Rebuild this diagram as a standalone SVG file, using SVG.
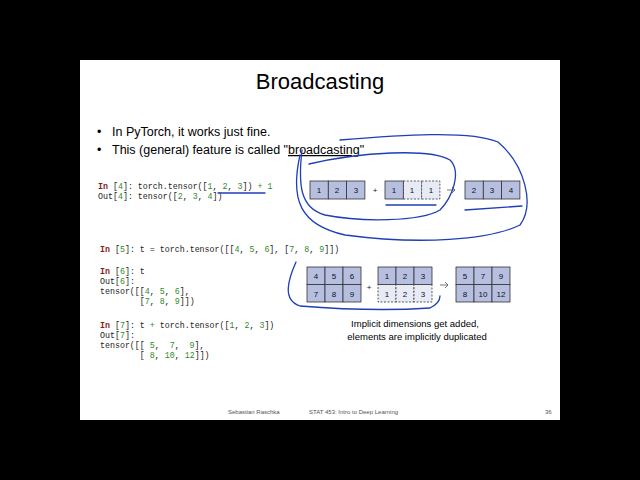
<svg xmlns="http://www.w3.org/2000/svg" width="640" height="480" viewBox="0 0 640 480">
<style>
.c{fill:#b6bfe0;stroke:#333;stroke-width:0.8}
.l{fill:#e8ebf5;stroke:#333;stroke-width:0.8;stroke-dasharray:2,1.5}
.n{font-family:"Liberation Sans",sans-serif;font-size:8px;text-anchor:middle;fill:#111}
.code text{font-family:"Liberation Mono",monospace;font-size:8.3px;fill:#222;white-space:pre}
.k{fill:#8b1a1a;font-weight:bold}
.g{fill:#2e8b2e}
.pen{fill:none;stroke:#1f3fb5;stroke-width:1.3;stroke-linecap:round}
.ar{fill:none;stroke:#555;stroke-width:0.8}
</style>
<rect width="640" height="480" fill="#000"/>
<rect x="80" y="60" width="480" height="360" fill="#fff"/>
<text x="320" y="89" font-family="Liberation Sans,sans-serif" font-size="22" text-anchor="middle">Broadcasting</text>
<g font-family="Liberation Sans,sans-serif" font-size="12.5">
<text x="97" y="136">•</text><text x="112" y="136">In PyTorch, it works just fine.</text>
<text x="97" y="154">•</text><text x="112" y="154">This (general) feature is called "<tspan text-decoration="underline">broadcasting</tspan>"</text>
</g>
<g class="code">
<text x="98" y="189"><tspan class="k">In</tspan> [<tspan class="g">4</tspan>]: torch.tensor([<tspan class="g">1</tspan>, <tspan class="g">2</tspan>, <tspan class="g">3</tspan>]) <tspan class="g">+</tspan> <tspan class="g">1</tspan></text>
<text x="98" y="199">Out[<tspan class="g">4</tspan>]: tensor([<tspan class="g">2</tspan>, <tspan class="g">3</tspan>, <tspan class="g">4</tspan>])</text>
<text x="100" y="252"><tspan class="k">In</tspan> [<tspan class="g">5</tspan>]: t = torch.tensor([[<tspan class="g">4</tspan>, <tspan class="g">5</tspan>, <tspan class="g">6</tspan>], [<tspan class="g">7</tspan>, <tspan class="g">8</tspan>, <tspan class="g">9</tspan>]])</text>
<text x="100" y="274"><tspan class="k">In</tspan> [<tspan class="g">6</tspan>]: t</text>
<text x="100" y="284">Out[<tspan class="g">6</tspan>]:</text>
<text x="100" y="294">tensor([[<tspan class="g">4</tspan>, <tspan class="g">5</tspan>, <tspan class="g">6</tspan>],</text>
<text x="139.8" y="304">[<tspan class="g">7</tspan>, <tspan class="g">8</tspan>, <tspan class="g">9</tspan>]])</text>
<text x="100" y="328"><tspan class="k">In</tspan> [<tspan class="g">7</tspan>]: t <tspan class="g">+</tspan> torch.tensor([<tspan class="g">1</tspan>, <tspan class="g">2</tspan>, <tspan class="g">3</tspan>])</text>
<text x="100" y="338">Out[<tspan class="g">7</tspan>]:</text>
<text x="100" y="348">tensor([[<tspan x="149.8" class="g">5</tspan>,<tspan x="169.7" class="g">7</tspan>,<tspan x="189.6" class="g">9</tspan>],</text>
<text x="139.8" y="358">[<tspan x="149.8" class="g">8</tspan>,<tspan x="164.7" class="g">10</tspan>,<tspan x="184.7" class="g">12</tspan>]])</text>
</g>
<g id="row1">
<rect class="c" x="310" y="181" width="18.3" height="18"/><rect class="c" x="328.3" y="181" width="18.3" height="18"/><rect class="c" x="346.6" y="181" width="18.3" height="18"/>
<text class="n" x="319" y="193">1</text><text class="n" x="337" y="193">2</text><text class="n" x="356" y="193">3</text>
<text class="n" x="375" y="193">+</text>
<rect class="l" x="403.3" y="181" width="18.3" height="18"/><rect class="l" x="421.6" y="181" width="18.3" height="18"/><rect class="c" x="385" y="181" width="18.3" height="18"/>
<text class="n" x="394" y="193">1</text><text class="n" x="412" y="193">1</text><text class="n" x="431" y="193">1</text>
<path class="ar" d="M447,190 H455 M452,187 L455,190 L452,193"/>
<rect class="c" x="465" y="181" width="18.3" height="18"/><rect class="c" x="483.3" y="181" width="18.3" height="18"/><rect class="c" x="501.6" y="181" width="18.3" height="18"/>
<text class="n" x="474" y="193">2</text><text class="n" x="492" y="193">3</text><text class="n" x="511" y="193">4</text>
</g>
<g id="row2">
<g transform="translate(307,267)">
<rect class="c" x="0" y="0" width="18" height="17.5"/><rect class="c" x="18" y="0" width="18" height="17.5"/><rect class="c" x="36" y="0" width="18" height="17.5"/>
<rect class="c" x="0" y="17.5" width="18" height="17.5"/><rect class="c" x="18" y="17.5" width="18" height="17.5"/><rect class="c" x="36" y="17.5" width="18" height="17.5"/>
<text class="n" x="9" y="12">4</text><text class="n" x="27" y="12">5</text><text class="n" x="45" y="12">6</text>
<text class="n" x="9" y="30">7</text><text class="n" x="27" y="30">8</text><text class="n" x="45" y="30">9</text>
</g>
<text class="n" x="369" y="290">+</text>
<g transform="translate(378,267)">
<rect class="l" x="0" y="17.5" width="18" height="17.5"/><rect class="l" x="18" y="17.5" width="18" height="17.5"/><rect class="l" x="36" y="17.5" width="18" height="17.5"/>
<rect class="c" x="0" y="0" width="18" height="17.5"/><rect class="c" x="18" y="0" width="18" height="17.5"/><rect class="c" x="36" y="0" width="18" height="17.5"/>
<text class="n" x="9" y="12">1</text><text class="n" x="27" y="12">2</text><text class="n" x="45" y="12">3</text>
<text class="n" x="9" y="30">1</text><text class="n" x="27" y="30">2</text><text class="n" x="45" y="30">3</text>
</g>
<path class="ar" d="M440,285 H448 M445,282 L448,285 L445,288"/>
<g transform="translate(456,267)">
<rect class="c" x="0" y="0" width="18" height="17.5"/><rect class="c" x="18" y="0" width="18" height="17.5"/><rect class="c" x="36" y="0" width="18" height="17.5"/>
<rect class="c" x="0" y="17.5" width="18" height="17.5"/><rect class="c" x="18" y="17.5" width="18" height="17.5"/><rect class="c" x="36" y="17.5" width="18" height="17.5"/>
<text class="n" x="9" y="12">5</text><text class="n" x="27" y="12">7</text><text class="n" x="45" y="12">9</text>
<text class="n" x="9" y="30">8</text><text class="n" x="27" y="30">10</text><text class="n" x="45" y="30">12</text>
</g>
</g>
<g font-family="Liberation Sans,sans-serif" font-size="9.5" text-anchor="middle">
<text x="415" y="327">Implicit dimensions get added,</text>
<text x="417" y="340">elements are implicitly duplicated</text>
</g>
<g id="pen">
<path class="pen" d="M218,193 L265,193"/>
<path class="pen" d="M309,164 C360,152 430,148 450,160 C462,172 452,198 440,210 C420,222 360,222 325,215 C300,208 298,185 302,150"/>
<path class="pen" d="M300,155 C290,200 300,225 345,235 C420,245 490,240 520,225 C535,205 525,165 498,142 C470,130 400,135 340,140"/>
<path class="pen" d="M386,205 L436,205"/>
<path class="pen" d="M465,210 L522,206"/>
<path class="pen" d="M296,262 C288,280 282,300 300,306 C350,310 400,310 430,308 C438,304 440,300 440,296"/>
</g>
<g font-family="Liberation Sans,sans-serif" font-size="6" fill="#555">
<text x="228" y="414">Sebastian Raschka</text>
<text x="309" y="414">STAT 453: Intro to Deep Learning</text>
<text x="545" y="414">36</text>
</g>
</svg>
